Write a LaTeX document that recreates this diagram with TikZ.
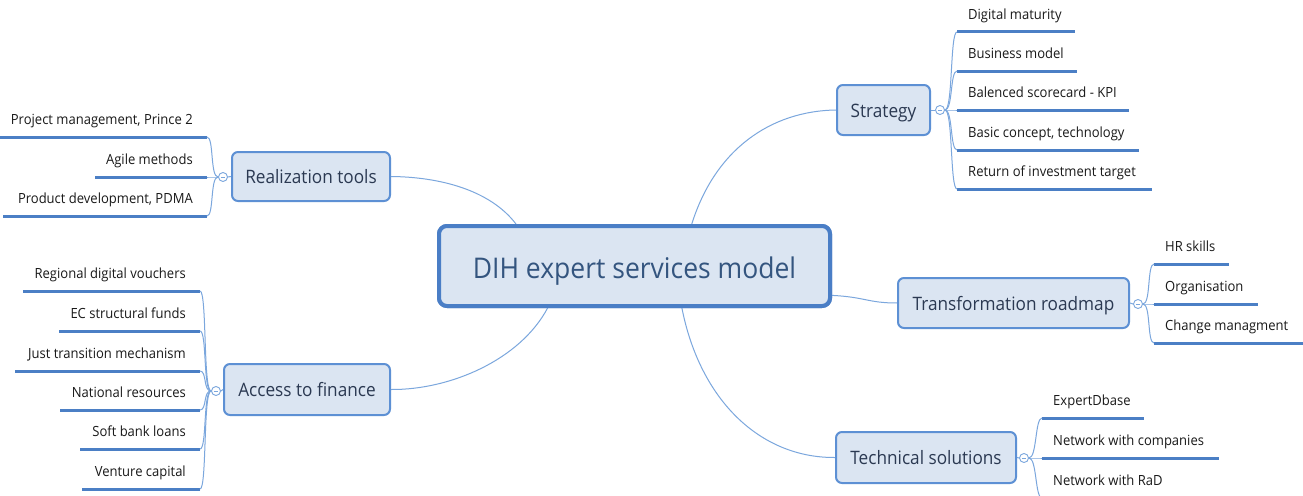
\documentclass[tikz,border=0pt]{standalone}
\usepackage{fontspec}
\setmainfont{Open Sans}[FakeStretch=0.93]
\usetikzlibrary{calc}
\definecolor{boxfill}{HTML}{DBE5F2}
\definecolor{mainborder}{HTML}{4A7EC6}
\definecolor{brborder}{HTML}{5D90D4}
\definecolor{conn}{HTML}{7BA7DD}
\definecolor{ulinec}{HTML}{4B7FC5}
\definecolor{maintext}{HTML}{34557F}
\definecolor{brtext}{HTML}{2B3952}
\definecolor{chtext}{HTML}{1A1A1A}
\begin{document}
\begin{tikzpicture}[x=1pt,y=-1pt,
  mainbox/.style={draw=mainborder, line width=4pt, fill=boxfill, rounded corners=8pt,
    inner sep=0pt, text=maintext, font=\fontsize{28.5}{32}\selectfont, text height=24pt, text depth=0pt},
  brbox/.style={draw=brborder, line width=2pt, fill=boxfill, rounded corners=6pt,
    inner sep=0pt, text=brtext, font=\fontsize{18.5}{22}\selectfont, text height=14pt, text depth=0pt},
  knob/.style={circle, draw=conn, line width=0.9pt, fill=white, inner sep=0pt, minimum size=9pt,
    path picture={\draw[conn, line width=0.8pt] ([xshift=-2.2pt]path picture bounding box.center) -- ([xshift=2.2pt]path picture bounding box.center);}},
  chbase/.style={text=chtext, font=\fontsize{14}{16}\selectfont, inner ysep=0pt, text height=10pt, text depth=12pt},
  rchild/.style={chbase, inner xsep=11pt, anchor=south west},
  lchild/.style={chbase, inner xsep=14pt, anchor=south east},
  conn/.style={draw=conn, line width=1pt},
  uline/.style={draw=ulinec, line width=3pt}
]
\clip (0,0) rectangle (1303,495);
\fill[white] (0,0) rectangle (1303,495);

% main and branch nodes
\node[mainbox, minimum width=391pt, minimum height=80pt] (main) at (634.5,266) {DIH expert services model};
\node[brbox, minimum width=93pt, minimum height=50pt] (str) at (883.5,110) {Strategy};
\node[brbox, minimum width=158pt, minimum height=49pt] (real) at (311,176.5) {Realization tools};
\node[brbox, minimum width=166pt, minimum height=51pt] (fin) at (307,389.5) {Access to finance};
\node[brbox, minimum width=231pt, minimum height=50pt] (tra) at (1013.5,303) {Transformation roadmap};
\node[brbox, minimum width=180pt, minimum height=51pt] (tec) at (926,457.5) {Technical solutions};

% knobs
\node[knob] (strk) at (940,110) {};
\node[knob] (realk) at (223,177) {};
\node[knob] (fink) at (216,391) {};
\node[knob] (trak) at (1138,304) {};
\node[knob] (teck) at (1024,458) {};

% main connectors
\coordinate (mS) at ($(main.north west)!0.645!(main.north east)$);
\coordinate (mR) at ($(main.north west)!0.2!(main.north east)$);
\coordinate (mF) at ($(main.south west)!0.28!(main.south east)$);
\coordinate (mT) at ($(main.south west)!0.62!(main.south east)$);
\coordinate (mE) at ($(main.south east)!0.15!(main.north east)$);
\path[conn] (mS) .. controls (715,150) and (770,111) .. (str.west);
\path[conn] (real.east) .. controls (440,177) and (490,190) .. (mR);
\path[conn] (fin.east) .. controls (450,390) and (520,360) .. (mF);
\path[conn] (mE) .. controls (865,297) and (868,303) .. (tra.west);
\path[conn] (mT) .. controls (700,400) and (760,458) .. (tec.west);

% redraw main box on top of connector ends
\node[mainbox, minimum width=391pt, minimum height=80pt] at (634.5,266) {DIH expert services model};

\path[conn] (str.east) -- (strk.west);
\path[conn] (real.west) -- (realk.east);
\path[conn] (fin.west) -- (fink.east);
\path[conn] (tra.east) -- (trak.west);
\path[conn] (tec.east) -- (teck.west);

% Strategy children
\node[rchild] (s1) at (957,32) {Digital maturity};
\node[rchild] (s2) at (957,71) {Business model};
\node[rchild] (s3) at (957,110) {Balenced scorecard - KPI};
\node[rchild] (s4) at (957,150) {Basic concept, technology};
\node[rchild] (s5) at (957,189) {Return of investment target};
\foreach \c/\w in {s1/118,s2/120,s3/172,s4/182,s5/195}{
  \path[uline] (\c.south west) -- ++(\w,0);
  \path[conn] (strk.east) .. controls ($(strk.east)+(8,0)$) and ($(\c.south west)+(-7,0)$) .. (\c.south west);
}

% Realization children
\node[lchild] (r1) at (207,137) {Project management, Prince 2};
\node[lchild] (r2) at (207,177) {Agile methods};
\node[lchild] (r3) at (207,216) {Product development, PDMA};
\foreach \c/\w in {r1/210,r2/112,r3/204}{
  \path[uline] (\c.south east) -- ++(-\w,0);
  \path[conn] (realk.west) .. controls ($(realk.west)+(-8,0)$) and ($(\c.south east)+(7,0)$) .. (\c.south east);
}

% Finance children
\node[lchild] (f1) at (200,291) {Regional digital vouchers};
\node[lchild] (f2) at (200,331) {EC structural funds};
\node[lchild] (f3) at (200,371) {Just transition mechanism};
\node[lchild] (f4) at (200,410) {National resources};
\node[lchild] (f5) at (200,449) {Soft bank loans};
\node[lchild] (f6) at (200,489) {Venture capital};
\foreach \c/\w in {f1/177,f2/141,f3/185,f4/140,f5/120,f6/118}{
  \path[uline] (\c.south east) -- ++(-\w,0);
  \path[conn] (fink.west) .. controls ($(fink.west)+(-8,0)$) and ($(\c.south east)+(7,0)$) .. (\c.south east);
}

% Transformation children
\node[rchild] (t1) at (1154,264) {HR skills};
\node[rchild] (t2) at (1154,304) {Organisation};
\node[rchild] (t3) at (1154,343) {Change managment};
\foreach \c/\w in {t1/75,t2/104,t3/149}{
  \path[uline] (\c.south west) -- ++(\w,0);
  \path[conn] (trak.east) .. controls ($(trak.east)+(8,0)$) and ($(\c.south west)+(-7,0)$) .. (\c.south west);
}

% Technical children
\node[rchild] (e1) at (1042,418) {ExpertDbase};
\node[rchild] (e2) at (1042,458) {Network with companies};
\node[rchild] (e3) at (1042,498) {Network with RaD};
\foreach \c/\w in {e1/102,e2/177,e3/140}{
  \path[uline] (\c.south west) -- ++(\w,0);
  \path[conn] (teck.east) .. controls ($(teck.east)+(8,0)$) and ($(\c.south west)+(-7,0)$) .. (\c.south west);
}
\end{tikzpicture}
\end{document}
